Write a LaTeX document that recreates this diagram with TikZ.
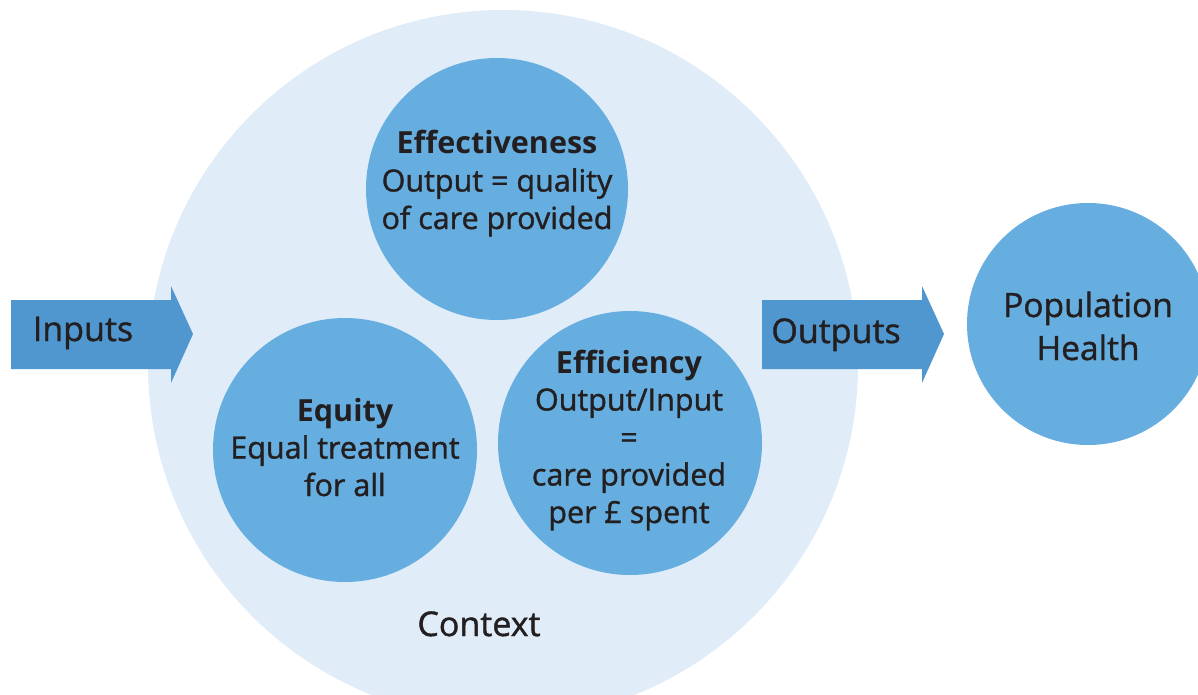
\documentclass[tikz,border=0pt]{standalone}
\usepackage{fontspec}
\setmainfont{Open Sans}[UprightFeatures={FakeBold=1.2}]
\definecolor{ctxfill}{HTML}{E0ECF7}
\definecolor{bubfill}{HTML}{66AEDF}
\definecolor{arrfill}{HTML}{5097D0}
\definecolor{ink}{HTML}{231F20}

\begin{document}
\begin{tikzpicture}[x=1pt,y=-1pt,
  ctxdisc/.style={circle, fill=ctxfill, minimum size=710pt, inner sep=0pt},
  bubble/.style={circle, fill=bubfill, minimum size=#1, inner sep=0pt},
  bubble/.default=264pt,
  bubtext/.style={text=ink, align=center, inner sep=0pt,
    font=\fontsize{30.5}{37.5}\selectfont},
  bigtext/.style={text=ink, align=center, inner sep=0pt,
    font=\fontsize{34}{43}\selectfont},
  flowarrow/.style={fill=arrfill}
]
\useasboundingbox (0,0) rectangle (1198,695);
\clip (0,0) rectangle (1198,695);

% context disc with the three dimensions
\node[ctxdisc] (context) at (503,365) {};
\node[bubble=262pt] (eff) at (497,189) {};
\node[bubble] (equ) at (345,450) {};
\node[bubble] (efc) at (630,443) {};

% outcome
\node[bubble=242pt] (pop) at (1088,324) {};

% block arrows
\fill[flowarrow] (11,300) -- (171,300) -- (171,286) -- (193,334)
  -- (171,383) -- (171,369) -- (11,369) -- cycle;
\fill[flowarrow] (762,300) -- (922,300) -- (922,286) -- (944,334)
  -- (922,383) -- (922,369) -- (762,369) -- cycle;

% labels (base anchor sits on the last line)
\node[bubtext, anchor=base] (eff-t) at (497,229)
  {\textbf{Effectiveness}\\Output = quality\\of care provided};
\node[bubtext, anchor=base] (equ-t) at (345,496)
  {\textbf{Equity}\\Equal treatment\\for all};
\node[bubtext, anchor=base] (efc-t) at (629,523)
  {\textbf{Efficiency}\\Output/Input\\=\\care provided\\per £ spent};
\node[bigtext, font=\fontsize{33.5}{43}\selectfont, anchor=base] (pop-t) at (1088,360)
  {Population\\Health};
\node[bigtext, anchor=base] (in-t) at (83,341) {Inputs};
\node[bigtext, anchor=base] (out-t) at (836,343) {Outputs};
\node[bigtext, anchor=base] (ctx-t) at (479,636) {Context};
\end{tikzpicture}
\end{document}
